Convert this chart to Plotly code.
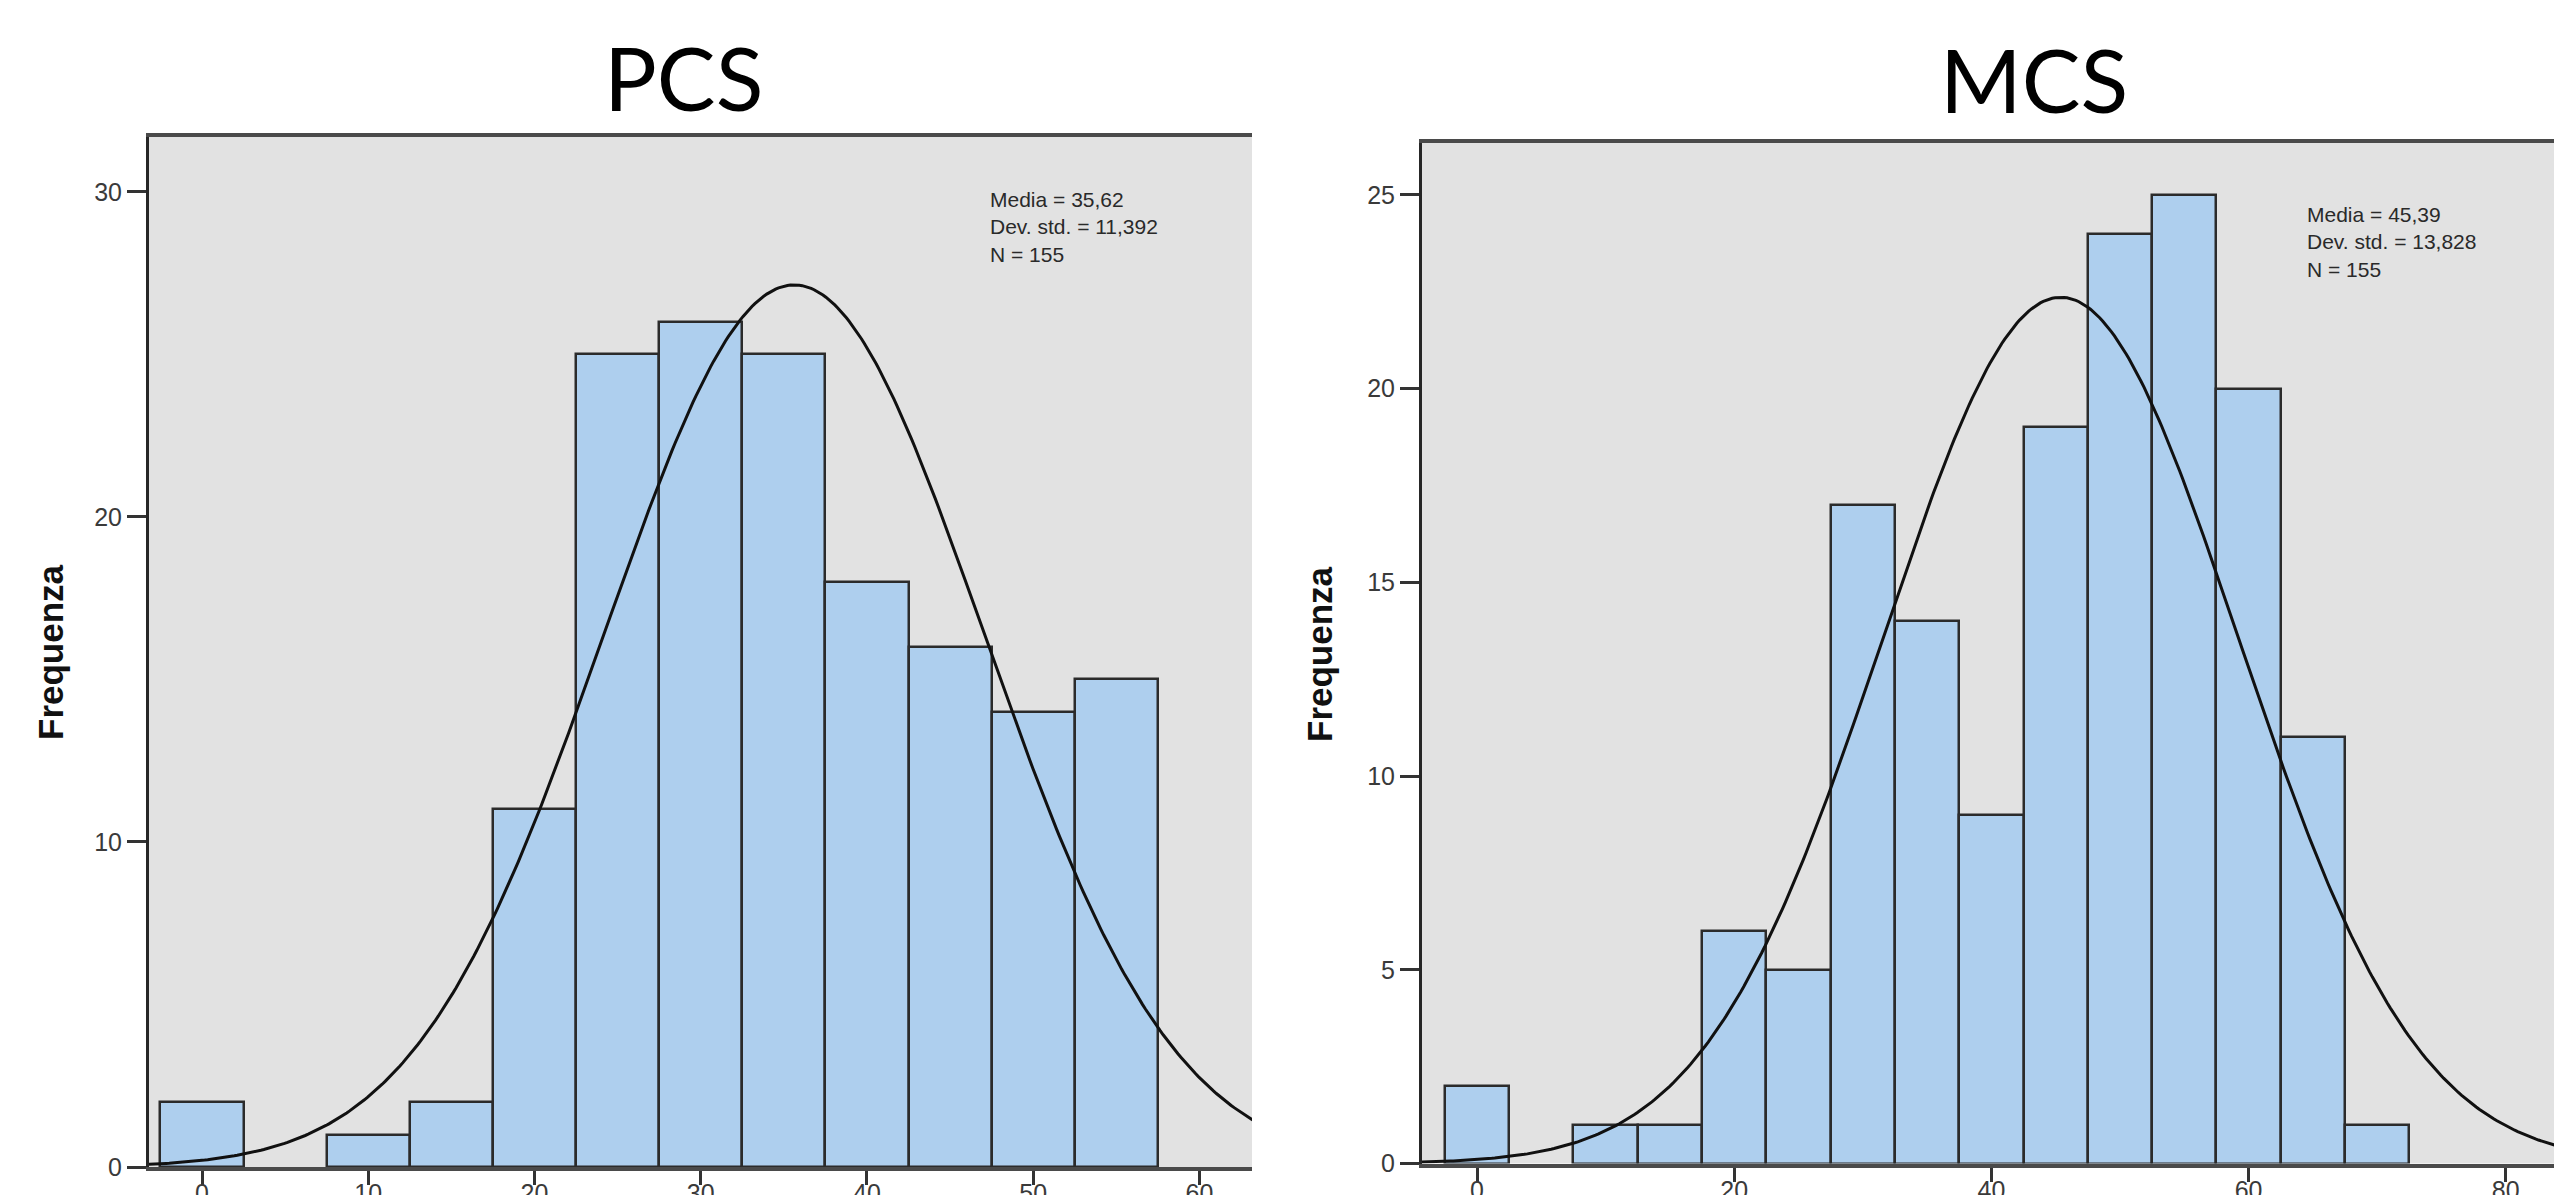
import numpy as np
import plotly.graph_objects as go

# ---- data ----
pcs_bins = [0, 10, 15, 20, 25, 30, 35, 40, 45, 50, 55]
pcs_counts = [2, 1, 2, 11, 25, 26, 25, 18, 16, 14, 15]
pcs_mean, pcs_sd, pcs_n = 35.62, 11.392, 155

mcs_bins = [0, 10, 15, 20, 25, 30, 35, 40, 45, 50, 55, 60, 65, 70]
mcs_counts = [2, 1, 1, 6, 5, 17, 14, 9, 19, 24, 25, 20, 11, 1]
mcs_mean, mcs_sd, mcs_n = 45.39, 13.828, 155

bin_width = 5
pcs_xticks = [0, 10, 20, 30, 40, 50, 60]
pcs_yticks = [0, 10, 20, 30]
mcs_xticks = [0, 20, 40, 60, 80]
mcs_yticks = [0, 5, 10, 15, 20, 25]

# page is 2562x1203; the html body adds an 8px margin around the figure
PAGE_W, PAGE_H = 2562, 1203
OFF = 8
W, H = PAGE_W - 2 * OFF, PAGE_H - 2 * OFF


def px_x(p):
    return (p - OFF) / W


def px_y(p):
    return (H - (p - OFF)) / H


BAR_FILL = "#AECFEE"
BAR_LINE = "#2b2b2b"
BG = "#E2E2E2"


def normal_curve(mean, sd, n, lo, hi):
    xs = np.linspace(lo, hi, 400)
    ys = n * bin_width / (sd * np.sqrt(2 * np.pi)) * np.exp(-0.5 * ((xs - mean) / sd) ** 2)
    return xs, ys


fig = go.Figure()

# PCS
fig.add_trace(go.Bar(x=pcs_bins, y=pcs_counts, width=bin_width,
                     marker=dict(color=BAR_FILL, line=dict(color=BAR_LINE, width=2.5)),
                     xaxis="x", yaxis="y", showlegend=False))
cx, cy = normal_curve(pcs_mean, pcs_sd, pcs_n, -5, 66)
fig.add_trace(go.Scatter(x=cx, y=cy, mode="lines", line=dict(color="#111111", width=3),
                         xaxis="x", yaxis="y", showlegend=False))

# MCS
fig.add_trace(go.Bar(x=mcs_bins, y=mcs_counts, width=bin_width,
                     marker=dict(color=BAR_FILL, line=dict(color=BAR_LINE, width=2.5)),
                     xaxis="x2", yaxis="y2", showlegend=False))
cx2, cy2 = normal_curve(mcs_mean, mcs_sd, mcs_n, -6, 86)
fig.add_trace(go.Scatter(x=cx2, y=cy2, mode="lines", line=dict(color="#111111", width=3),
                         xaxis="x2", yaxis="y2", showlegend=False))

tickfont = dict(family="Liberation Sans, Arial, sans-serif", size=25, color="#3a3a3a")


def xaxis_cfg(domain, rng, ticks, anchor):
    return dict(domain=domain, range=rng, tickvals=ticks, ticktext=[str(t) for t in ticks],
                showgrid=False, zeroline=False, showline=True, linecolor="#4a4a4a", linewidth=4,
                mirror=True, ticks="outside", ticklen=14, tickwidth=3, tickcolor="#333333",
                ticklabelstandoff=-13,
                tickfont=tickfont, anchor=anchor, fixedrange=True, automargin=False)


def yaxis_cfg(domain, rng, ticks, anchor):
    return dict(domain=domain, range=rng, tickvals=ticks, ticktext=[str(t) for t in ticks],
                showgrid=False, zeroline=False, showline=True, linecolor="#262626", linewidth=3,
                mirror=False, ticks="outside", ticklen=19, tickwidth=3, tickcolor="#333333",
                tickfont=tickfont, anchor=anchor, fixedrange=True, automargin=False)


fig.update_layout(
    width=W, height=H,
    autosize=False,
    margin=dict(l=0, r=0, t=0, b=0, pad=0, autoexpand=False),
    paper_bgcolor="white", plot_bgcolor=BG,
    bargap=0,
    xaxis=xaxis_cfg([px_x(149), px_x(1252)], [-3.19, 63.16], pcs_xticks, "y"),
    yaxis=yaxis_cfg([px_y(1167), px_y(137)], [0, 31.69], pcs_yticks, "x"),
    xaxis2=xaxis_cfg([px_x(1422), 1.0], [-4.28, 83.75], mcs_xticks, "y2"),
    yaxis2=yaxis_cfg([px_y(1163.5), px_y(143)], [0, 26.34], mcs_yticks, "x2"),
)

annots = []
title_font = dict(family="Lato, Open Sans, sans-serif", size=88, color="black")
annots.append(dict(text="PCS", x=px_x(683), y=px_y(77), xref="paper", yref="paper",
                   xanchor="center", yanchor="middle", showarrow=False, font=title_font))
annots.append(dict(text="MCS", x=px_x(2034), y=px_y(79), xref="paper", yref="paper",
                   xanchor="center", yanchor="middle", showarrow=False, font=title_font))

lab_font = dict(family="Liberation Sans, Arial, sans-serif", size=35, color="#111111")
annots.append(dict(text="<b>Frequenza</b>", x=px_x(50), y=px_y(652), xref="paper", yref="paper",
                   xanchor="center", yanchor="middle", textangle=-90, showarrow=False, font=lab_font))
annots.append(dict(text="<b>Frequenza</b>", x=px_x(1319), y=px_y(654), xref="paper", yref="paper",
                   xanchor="center", yanchor="middle", textangle=-90, showarrow=False, font=lab_font))

stat_font = dict(family="Liberation Sans, Arial, sans-serif", size=21, color="#2a2a2a")


def fmt_stats(mean, sd, n):
    return ("Media = " + f"{mean:.2f}".replace(".", ",") + "<br>" +
            "Dev. std. = " + f"{sd:.3f}".replace(".", ",") + "<br>" +
            "N = " + str(n))


annots.append(dict(text=fmt_stats(pcs_mean, pcs_sd, pcs_n), x=px_x(988), y=px_y(186),
                   xref="paper", yref="paper", xanchor="left", yanchor="top", align="left",
                   showarrow=False, font=stat_font))
annots.append(dict(text=fmt_stats(mcs_mean, mcs_sd, mcs_n), x=px_x(2305), y=px_y(201),
                   xref="paper", yref="paper", xanchor="left", yanchor="top", align="left",
                   showarrow=False, font=stat_font))

fig.update_layout(annotations=annots)

fig.write_html("out.html")
